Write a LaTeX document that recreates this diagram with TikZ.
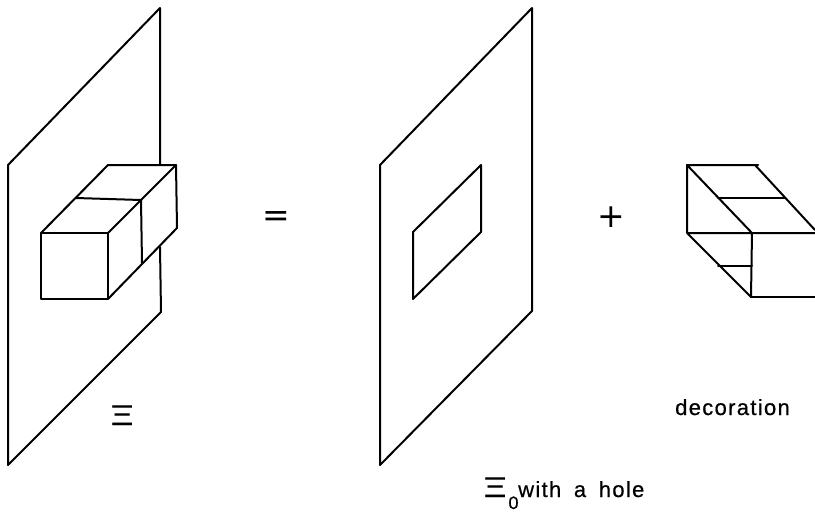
\documentclass[tikz,border=0pt]{standalone}
\usepackage{fontspec}
\setmainfont{Liberation Sans}
\newfontfamily\plotfont[LetterSpace=6,WordSpace=1.7,FakeBold=0.6]{Liberation Sans}
\newfontfamily\signfont{DejaVu Sans}
\newfontfamily\xifont[FakeStretch=1.6,FakeBold=0.5]{DejaVu Sans}
\usetikzlibrary{positioning}
\tikzset{
    edge/.style={line width=2pt, line join=round, line cap=round},
    caption/.style={font=\plotfont\fontsize{22}{24}\selectfont, inner sep=0pt, anchor=base west},
    greek/.style={font=\xifont\fontsize{27}{28}\selectfont, inner sep=0pt, anchor=base west},
    sign/.style={font=\signfont\fontsize{33}{34}\selectfont, inner sep=0pt},
}
\begin{document}
\begin{tikzpicture}[x=1pt, y=-1pt]
    \useasboundingbox (0,0) rectangle (815,512);
    % full sheet with the box through it
    \draw[edge] (160,165) -- (160,8) -- (8,165) -- (8,465) -- (161,312) -- (160,247);
    \draw[edge] (41,233) rectangle (108,299);
    \draw[edge] (41,233) -- (108,165) -- (176,165) -- (177,228) -- (108,299);
    \draw[edge] (108,233) -- (176,165);
    \draw[edge] (76,198) -- (141,200) -- (142,263);
    \node (eq) [sign] at (276,219.5) {=};
    % sheet with the hole
    \draw[edge] (380,165) -- (532,8) -- (532,311) -- (380,465) -- cycle;
    \draw[edge] (413,232) -- (481,165) -- (481,232) -- (413,299) -- cycle;
    \node (pl) [sign] at (611,217) {+};
    % decoration
    \draw[edge] (758,165) -- (687,165) -- (752,233) -- (815,233);
    \draw[edge] (755,165) -- (815,230);
    \draw[edge] (718,198) -- (785,198);
    \draw[edge] (687,165) -- (687,233) -- (752,233) -- (751,297) -- (687,233);
    \draw[edge] (751,297) -- (815,297);
    \draw[edge] (718,266) -- (752,266);
    % labels
    \node (xi) [greek] at (108,425) {Ξ};
    \node (dec) [caption] at (675,415) {decoration};
    \node (hole) [caption] at (518,497) {with a hole};
    \node (xib) [greek] at (481,497) {Ξ\raisebox{-12pt}{\plotfont\fontsize{18}{19}\selectfont 0}};
\end{tikzpicture}
\end{document}
